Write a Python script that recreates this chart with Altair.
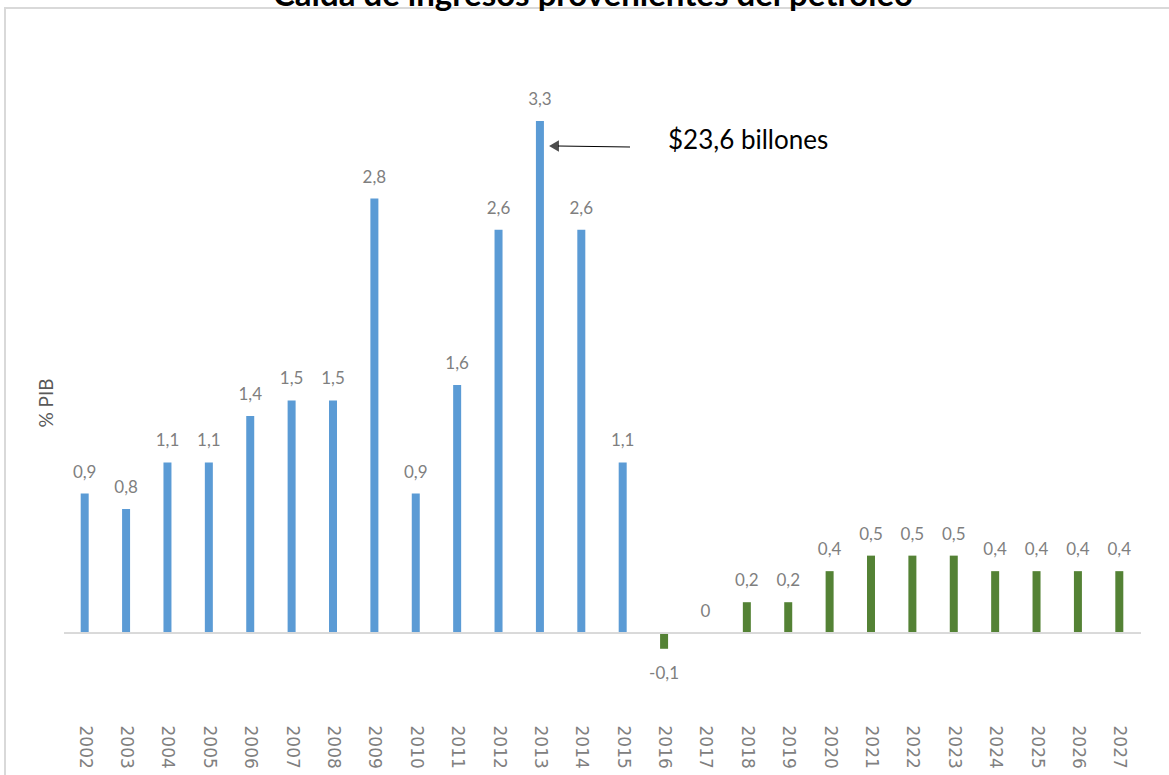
import altair as alt
import pandas as pd

years = [str(y) for y in range(2002, 2028)]
values = [0.9, 0.8, 1.1, 1.1, 1.4, 1.5, 1.5, 2.8, 0.9, 1.6, 2.6, 3.3, 2.6, 1.1,
          -0.1, 0.0, 0.2, 0.2, 0.4, 0.5, 0.5, 0.5, 0.4, 0.4, 0.4, 0.4]
groups = ["hist"] * 14 + ["proy"] * 12
labels = [f"{v:g}".replace(".", ",") for v in values]

title_text = "Caída de ingresos provenientes del petróleo"
annot_text = "$23,6 billones"
y_title = "% PIB"

df = pd.DataFrame({"year": years, "value": values, "group": groups, "label": labels})

W, H = 1076, 638
FONT = "Lato"
GRAY = "#7f7f7f"

x_axis = alt.Axis(title=None, labelAngle=90, domain=False, ticks=False,
                  labelPadding=25, labelFont="DejaVu Sans", labelFontSize=17,
                  labelColor="#808080")
x_scale = alt.Scale(paddingInner=0, paddingOuter=0)
y_scale = alt.Scale(domain=[-0.43, 3.68], nice=False, zero=False)


def xenc():
    return alt.X("year:N", sort=years, scale=x_scale, axis=x_axis)


def yenc():
    return alt.Y("value:Q", scale=y_scale, axis=None)


base = alt.Chart(df)

bars = base.mark_bar(width=8).encode(
    x=xenc(),
    y=yenc(),
    y2=alt.Y2Datum(0),
    color=alt.Color("group:N", scale=alt.Scale(domain=["hist", "proy"],
                                               range=["#5b9bd5", "#548235"]), legend=None),
)

zero = base.mark_rule(color="#d9d9d9", strokeWidth=1.5).encode(
    y=alt.YDatum(0, scale=y_scale, axis=None),
    x=alt.value(0), x2=alt.value(W + 1),
)

pos_labels = base.transform_filter("datum.value >= 0").mark_text(
    font=FONT, fontSize=17, color=GRAY, dy=-16, baseline="alphabetic", align="center"
).encode(x=xenc(), y=yenc(), text="label:N")

neg_labels = base.transform_filter("datum.value < 0").mark_text(
    font=FONT, fontSize=17, color=GRAY, dy=30, baseline="alphabetic", align="center"
).encode(x=xenc(), y=yenc(), text="label:N")

one = alt.Chart(pd.DataFrame({"a": [0]}))

ytitle = one.mark_text(font=FONT, fontSize=19, color="#595959", angle=270,
                       align="center", baseline="middle", text=y_title).encode(
    x=alt.value(-17), y=alt.value(341))

title = one.mark_text(font=FONT, fontSize=33, fontWeight="bold", color="black",
                      align="center", baseline="alphabetic", text=title_text).encode(
    x=alt.value(529), y=alt.value(-56))

border = one.mark_rect(fill="white", fillOpacity=0, stroke="#d9d9d9", strokeWidth=2).encode(
    x=alt.value(-59), y=alt.value(-54), x2=alt.value(1200), y2=alt.value(800))

arrow_line = one.mark_rule(color="black", strokeWidth=1).encode(
    x=alt.value(494), x2=alt.value(566), y=alt.value(84), y2=alt.value(85))
arrow_head = one.mark_point(shape="triangle-left", filled=True, color="black",
                            size=130).encode(
    x=alt.value(490), y=alt.value(84))
annot = one.mark_text(font=FONT, fontSize=26, color="black", align="left",
                      baseline="alphabetic", text=annot_text).encode(
    x=alt.value(604), y=alt.value(87))

chart = alt.layer(bars, border, zero, pos_labels, neg_labels, ytitle, title,
                  arrow_line, arrow_head, annot).properties(
    width=W, height=H,
    padding={"left": 64, "top": 62, "right": 29, "bottom": 75},
    autosize=alt.AutoSizeParams(type="none"),
    background="white",
).configure_view(stroke=None)

chart.save("out.html", embed_options={"renderer": "svg", "actions": False})
